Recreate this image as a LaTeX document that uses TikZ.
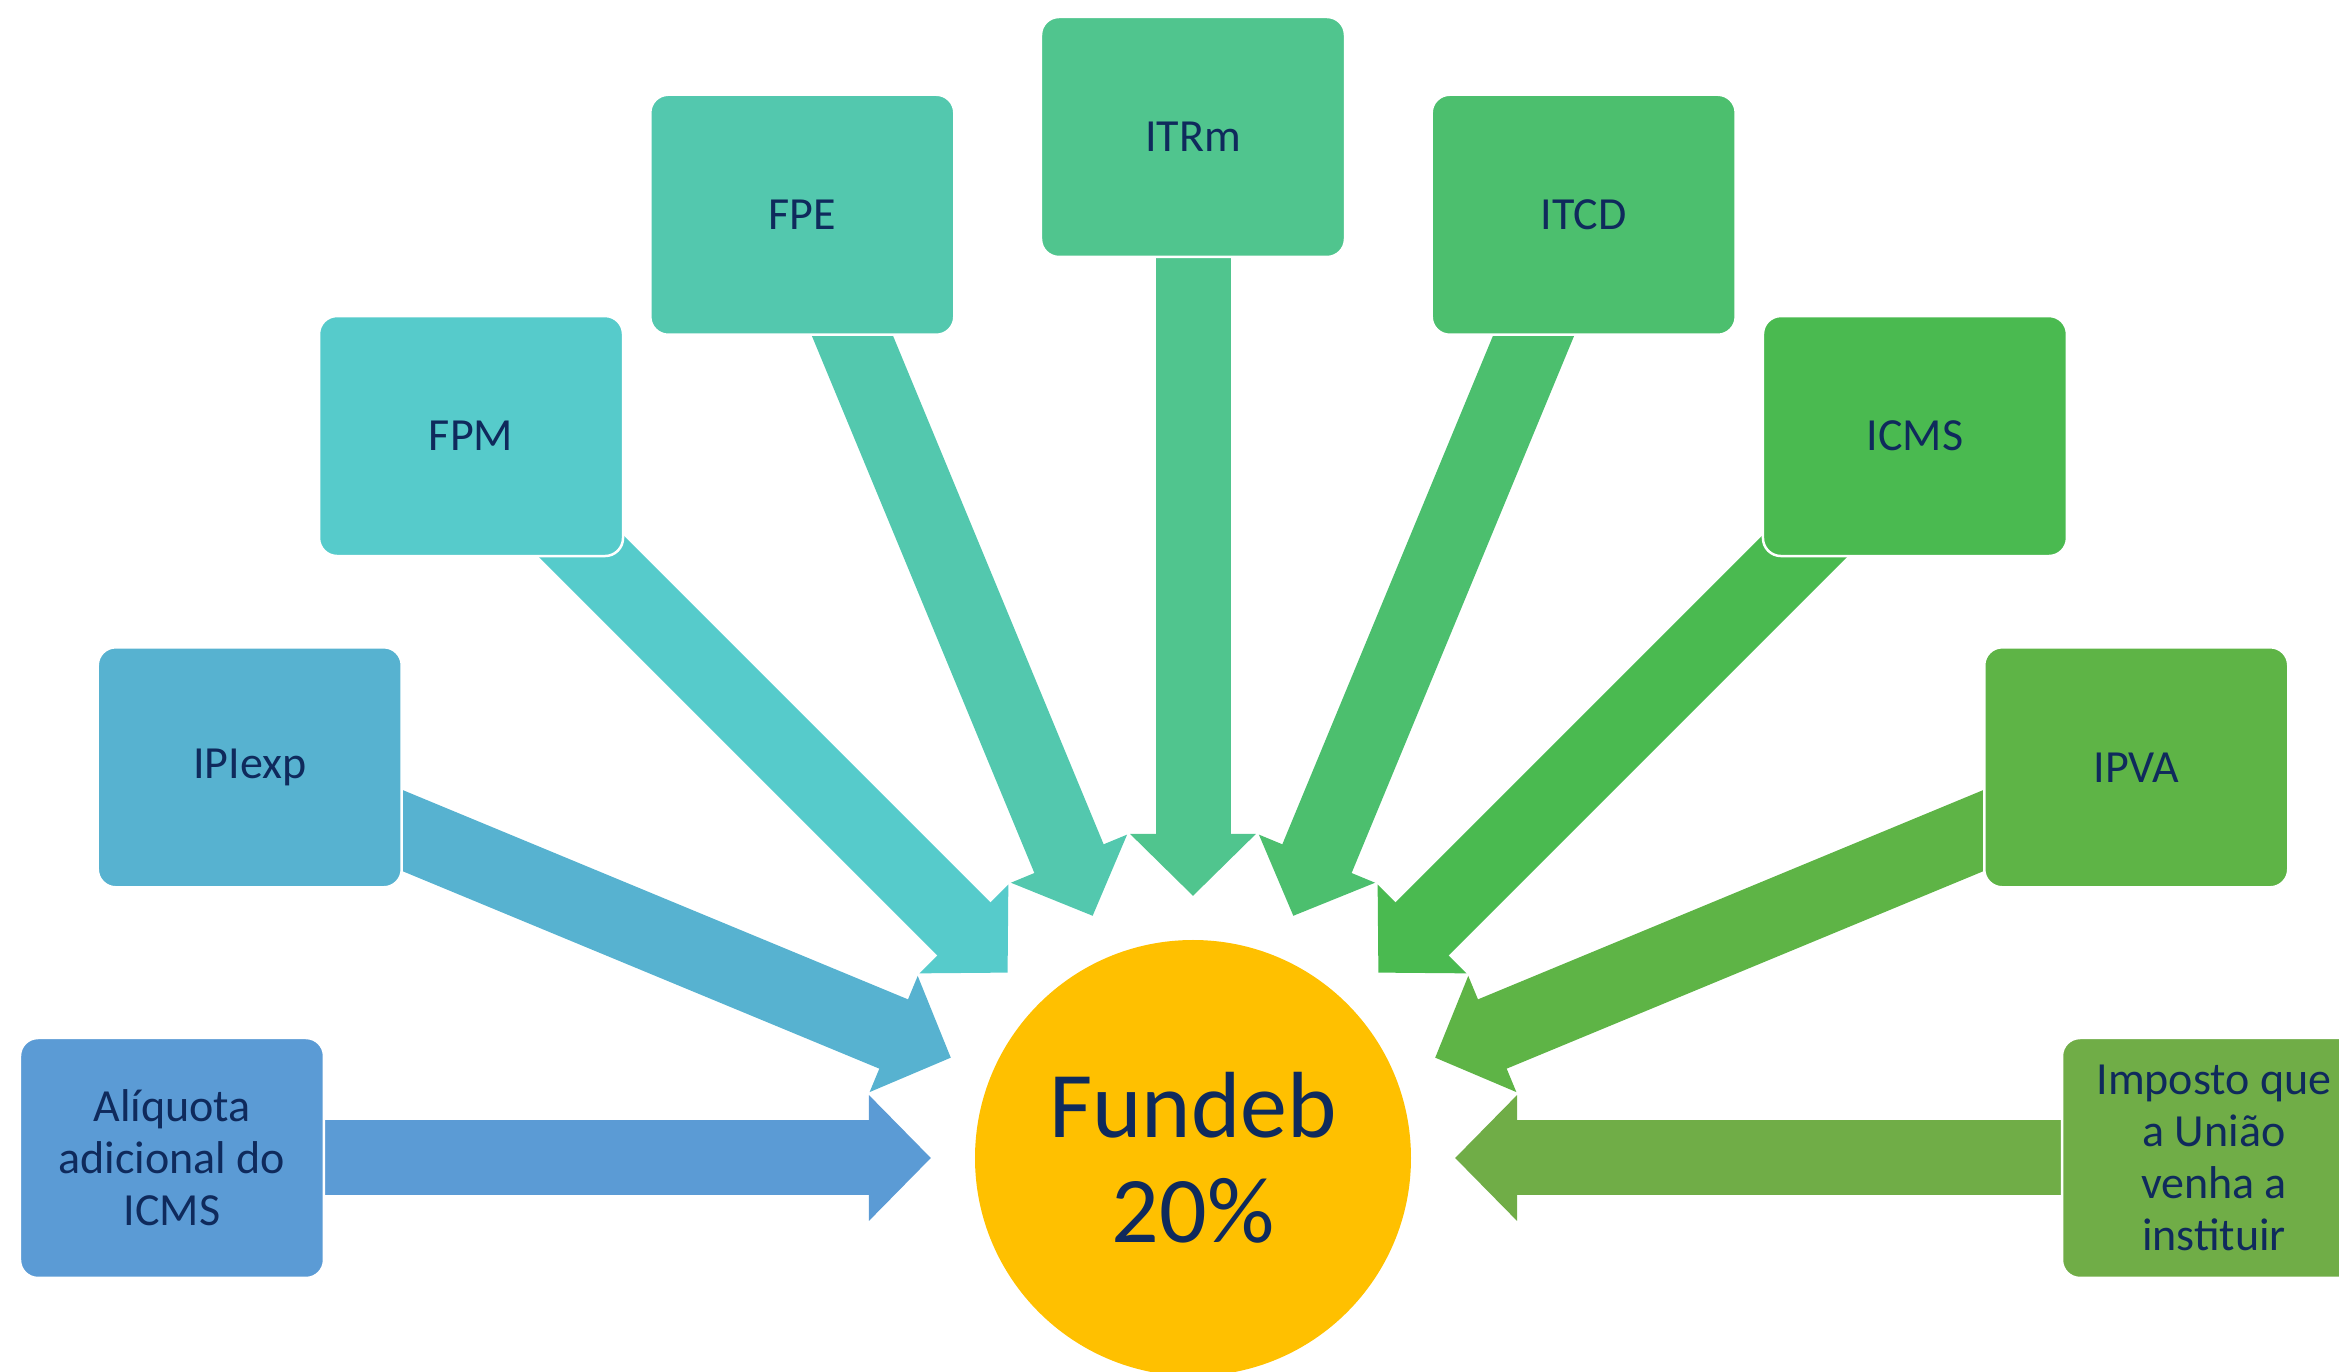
\documentclass[tikz,border=0pt]{standalone}
\usepackage{fontspec}
\setmainfont{Carlito}
\usetikzlibrary{arrows.meta,backgrounds}
\definecolor{navy}{HTML}{0F2A5C}
\definecolor{gold}{HTML}{FFC000}
\definecolor{cA}{HTML}{5B9BD5}
\definecolor{cB}{HTML}{57B2D0}
\definecolor{cC}{HTML}{56CBCB}
\definecolor{cD}{HTML}{53C8AE}
\definecolor{cE}{HTML}{50C58E}
\definecolor{cF}{HTML}{4CBF6E}
\definecolor{cG}{HTML}{4ABA50}
\definecolor{cH}{HTML}{5EB446}
\definecolor{cI}{HTML}{70AD47}
\begin{document}
\begin{tikzpicture}[x=1pt,y=1pt,
  box/.style={rounded corners=18pt, minimum width=304pt, minimum height=240pt,
    inner sep=0pt, draw=white, line width=2.5pt, text=navy,
    font=\fontsize{46}{52}\selectfont, align=center},
  flow/.style={line width=75pt, -{Triangle[length=62pt,width=122pt]}},
  hub/.style={circle, fill=gold, minimum size=436pt, inner sep=0pt, text=navy,
    font=\fontsize{94}{105}\selectfont, align=center}
]
\useasboundingbox (-1193,-214) rectangle (1146,1158);
\node[box, fill=cA] (a) at (180:1021) {Alíquota\\adicional do\\ICMS};
\node[box, fill=cB] (b) at (157.5:1021) {IPIexp};
\node[box, fill=cC] (c) at (135:1021) {FPM};
\node[box, fill=cD] (d) at (112.5:1021) {FPE};
\node[box, fill=cE] (e) at (90:1021) {ITRm};
\node[box, fill=cF] (g) at (67.5:1021) {ITCD};
\node[box, fill=cG] (h) at (45:1021) {ICMS};
\node[box, fill=cH] (i) at (22.5:1021) {IPVA};
\node[box, fill=cI] (j) at (0:1021) {Imposto que\\a União\\venha a\\instituir};
\node[hub] (f) at (0,0) {Fundeb\\20\%};
\coordinate (ta) at (180:262);
\coordinate (tb) at (157.5:262);
\coordinate (tc) at (135:262);
\coordinate (td) at (112.5:262);
\coordinate (te) at (90:262);
\coordinate (tg) at (67.5:262);
\coordinate (th) at (45:262);
\coordinate (ti) at (22.5:262);
\coordinate (tj) at (0:262);
\begin{scope}[on background layer]
\draw[flow, cA] (a.center) -- (ta);
\draw[flow, cB] (b.center) -- (tb);
\draw[flow, cC] (c.center) -- (tc);
\draw[flow, cD] (d.center) -- (td);
\draw[flow, cE] (e.center) -- (te);
\draw[flow, cF] (g.center) -- (tg);
\draw[flow, cG] (h.center) -- (th);
\draw[flow, cH] (i.center) -- (ti);
\draw[flow, cI] (j.center) -- (tj);
\end{scope}
\end{tikzpicture}
\end{document}
